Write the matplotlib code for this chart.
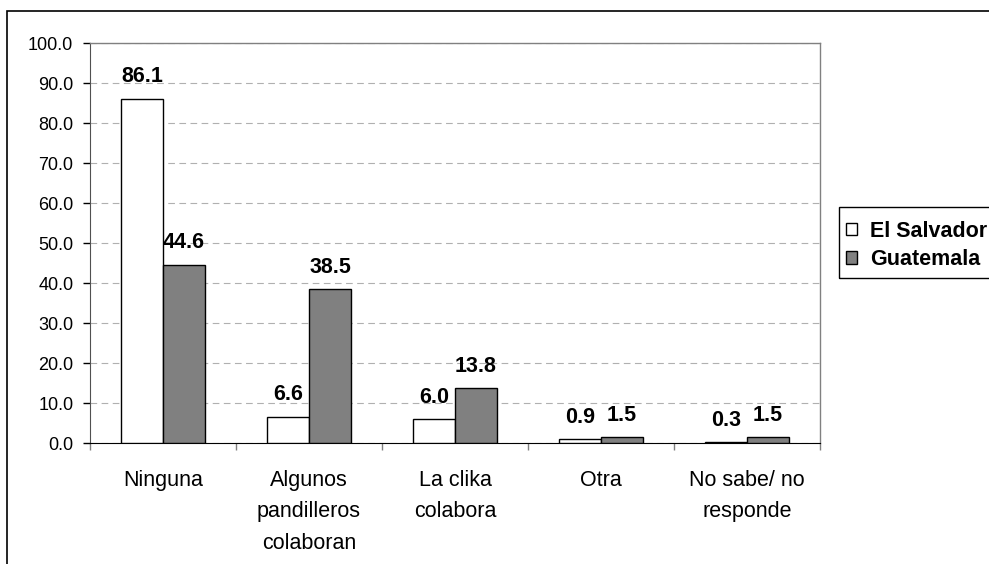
import matplotlib
matplotlib.use("Agg")
import matplotlib.pyplot as plt
import numpy as np
from matplotlib.patches import Rectangle, Patch

plt.rcParams['font.family'] = ['Liberation Sans', 'DejaVu Sans']

categories = ["Ninguna", "Algunos\npandilleros\ncolaboran", "La clika\ncolabora", "Otra", "No sabe/ no\nresponde"]
el_salvador = [86.1, 6.6, 6.0, 0.9, 0.3]
guatemala = [44.6, 38.5, 13.8, 1.5, 1.5]
series_names = ["El Salvador", "Guatemala"]
yticks = np.arange(0, 101, 10)

fig = plt.figure(figsize=(9.89, 5.64), dpi=100)
ax = fig.add_axes([90/989, 1-443/564, 730/989, 400/564])

x = np.arange(len(categories))
w = 0.288
b1 = ax.bar(x - w/2, el_salvador, w, color="white", edgecolor="black", linewidth=1.0, zorder=3)
b2 = ax.bar(x + w/2, guatemala, w, color="#808080", edgecolor="black", linewidth=1.0, zorder=3)

for bars, vals in ((b1, el_salvador), (b2, guatemala)):
    for r, v in zip(bars, vals):
        ax.annotate(f"{v:.1f}", (r.get_x() + r.get_width()/2, v), xytext=(0, 8),
                    textcoords="offset points", ha="center", va="bottom",
                    fontsize=15.5, fontweight="bold")

ax.set_xlim(-0.5, len(categories) - 0.5)
ax.set_ylim(0, 100)
ax.set_yticks(yticks)
ax.set_yticklabels([f"{t:.1f}" for t in yticks], fontsize=13)
ax.yaxis.grid(True, color="#b0b0b0", linestyle=(0, (6, 4)), linewidth=0.8, zorder=0)
ax.set_axisbelow(True)

ax.set_xticks(np.arange(-0.5, len(categories)), minor=False)
ax.set_xticklabels([])
ax.set_xticks(x, minor=True)
ax.set_xticklabels(categories, minor=True, fontsize=15.5, linespacing=1.65)
ax.tick_params(axis="x", which="minor", length=0, pad=19.5)
ax.tick_params(axis="x", which="major", length=5, width=1, color="#808080")
ax.tick_params(axis="y", length=5, width=1, pad=7)

for s in ("top", "right"):
    ax.spines[s].set_color("#808080")
    ax.spines[s].set_linewidth(1.0)
ax.spines["left"].set_color("#505050")
ax.spines["bottom"].set_color("black")

# legend frame runs off the right edge of the figure
fig.patches.append(Rectangle((839/989, 1-278/564), 0.3, 71/564, transform=fig.transFigure,
                             fill=False, edgecolor="black", linewidth=1.0))
handles = [Patch(facecolor="white", edgecolor="black"), Patch(facecolor="#808080", edgecolor="black")]
leg = fig.legend(handles, series_names, loc="center left", bbox_to_anchor=(846/989, 1-245.5/564),
                 frameon=False, prop={"weight": "bold", "size": 15.5},
                 handlelength=0.5, handleheight=0.5, handletextpad=0.6, borderpad=0,
                 labelspacing=0.33, borderaxespad=0)

fig.patches.append(Rectangle((7/989, -0.05), 1.1, 1 - 11/564 + 0.05, transform=fig.transFigure,
                             fill=False, edgecolor="black", linewidth=1.2))

fig.savefig("out.png", dpi=100)
